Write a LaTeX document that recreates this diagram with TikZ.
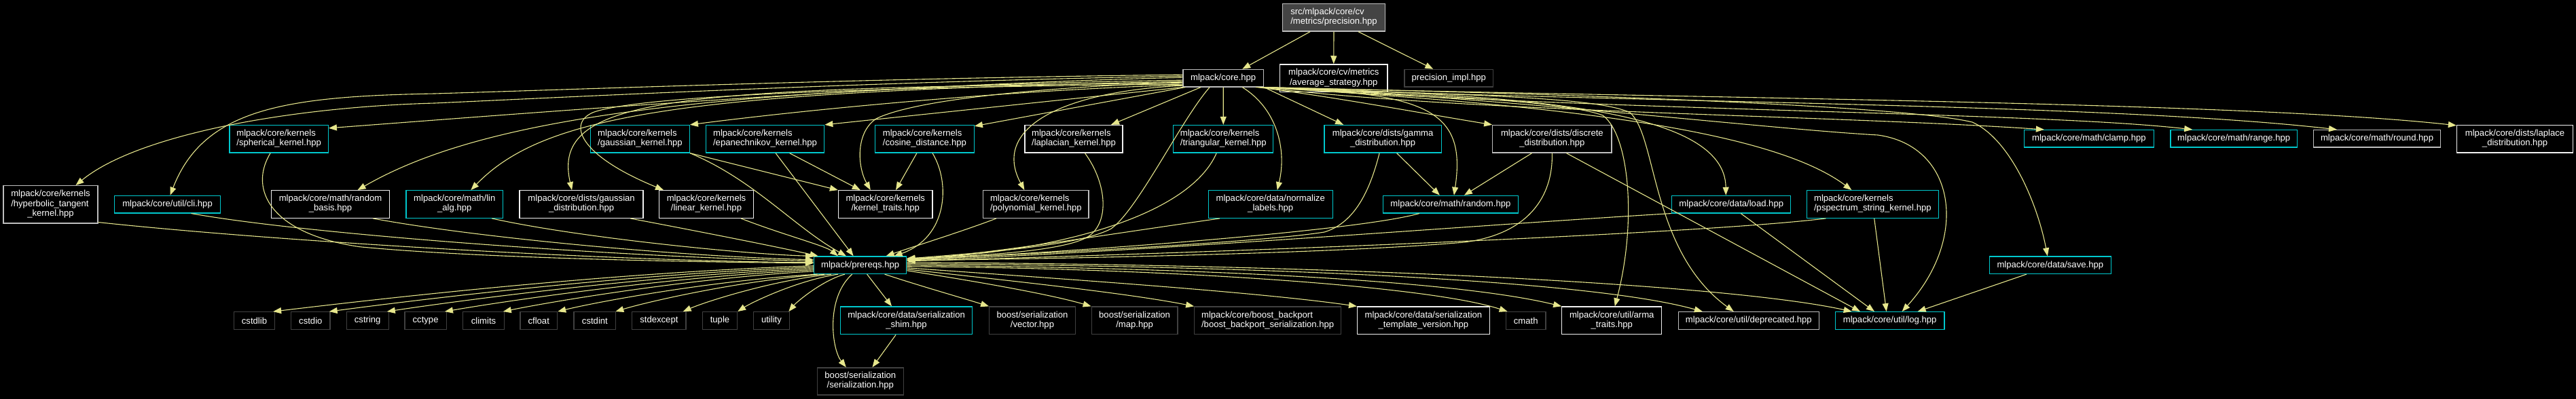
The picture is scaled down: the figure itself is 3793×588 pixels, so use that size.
\documentclass[tikz,border=0pt]{standalone}
\usepackage{fontspec}
\setmainfont{Liberation Sans}
\usetikzlibrary{arrows.meta}
\definecolor{edgec}{RGB}{230,230,140}
\definecolor{cyanb}{RGB}{0,200,205}
\definecolor{whiteb}{RGB}{240,240,240}
\definecolor{grayb}{RGB}{190,190,190}
\definecolor{extb}{RGB}{64,64,64}
\definecolor{rootf}{RGB}{68,68,68}
\newcommand\twol[2]{\begin{tabular}{@{}l@{}}#1\\\multicolumn{1}{@{}c@{}}{#2}\end{tabular}}
\newcommand\threel[3]{\begin{tabular}{@{}l@{}}#1\\#2\\\multicolumn{1}{@{}c@{}}{#3}\end{tabular}}
\tikzset{
  nbase/.style={draw, line width=1.3pt, text=white, inner sep=0pt, font=\fontsize{13.1}{14.25}\selectfont},
  ncy/.style={nbase, draw=cyanb},
  nwh/.style={nbase, draw=whiteb},
  ngr/.style={nbase, draw=grayb},
  nex/.style={nbase, draw=extb},
  nrt/.style={nbase, draw=grayb, fill=rootf},
  bsz/.style 2 args={minimum width=#1pt, minimum height=#2pt},
  edg/.style={draw=edgec, line width=1.1pt, -{Triangle[length=12pt,width=9pt]}},
}
\begin{document}
\begin{tikzpicture}[x=1pt,y=-1pt]
\fill[black] (0,0) rectangle (3793,588);
\useasboundingbox (0,0) rectangle (3793,588);

% nodes
\node[nrt, bsz={150.8}{40.5}] (root) at (1964,25.85) {\twol{src/mlpack/core/cv}{/metrics/precision.hpp}};
\node[ngr, bsz={118.4}{25.5}] (core) at (1801.2,115.15) {mlpack/core.hpp};
\node[nwh, bsz={158.5}{40.5}] (avg) at (1963.75,115.15) {\twol{mlpack/core/cv/metrics}{/average\_strategy.hpp}};
\node[nex, bsz={130.6}{25.5}] (impl) at (2133.3,115.15) {precision\_impl.hpp};

\node[ncy, bsz={145.3}{40.5}] (sph) at (410.65,204.75) {\twol{mlpack/core/kernels}{/spherical\_kernel.hpp}};
\node[ncy, bsz={145.7}{40.5}] (gk) at (942.45,204.75) {\twol{mlpack/core/kernels}{/gaussian\_kernel.hpp}};
\node[ncy, bsz={174.3}{40.5}] (epa) at (1126.55,204.75) {\twol{mlpack/core/kernels}{/epanechnikov\_kernel.hpp}};
\node[ncy, bsz={145.7}{40.5}] (cos) at (1361.45,204.75) {\twol{mlpack/core/kernels}{/cosine\_distance.hpp}};
\node[nwh, bsz={144}{40.5}] (lapk) at (1581,204.75) {\twol{mlpack/core/kernels}{/laplacian\_kernel.hpp}};
\node[ncy, bsz={146.9}{40.5}] (tri) at (1801.25,204.75) {\twol{mlpack/core/kernels}{/triangular\_kernel.hpp}};
\node[ncy, bsz={172.2}{40.5}] (gam) at (2036.1,204.75) {\twol{mlpack/core/dists/gamma}{\_distribution.hpp}};
\node[ngr, bsz={175.1}{40.5}] (dis) at (2285.35,204.75) {\twol{mlpack/core/dists/discrete}{\_distribution.hpp}};
\node[nwh, bsz={171}{40.5}] (lapd) at (3703,204.75) {\twol{mlpack/core/dists/laplace}{\_distribution.hpp}};
\node[ncy, bsz={190.9}{25.5}] (clamp) at (3075.85,204.35) {mlpack/core/math/clamp.hpp};
\node[ncy, bsz={186.6}{25.5}] (range) at (3289.2,204.35) {mlpack/core/math/range.hpp};
\node[ngr, bsz={187.4}{25.5}] (round) at (3500,204.35) {mlpack/core/math/round.hpp};

\node[ngr, bsz={139.2}{55.2}] (hyp) at (74.5,301.3) {\threel{mlpack/core/kernels}{/hyperbolic\_tangent}{\_kernel.hpp}};
\node[ncy, bsz={155.9}{25.5}] (cli) at (246.55,301.15) {mlpack/core/util/cli.hpp};
\node[nwh, bsz={173.9}{40.5}] (rb) at (486.55,301) {\twol{mlpack/core/math/random}{\_basis.hpp}};
\node[ncy, bsz={142.6}{40.5}] (lin) at (669.3,301) {\twol{mlpack/core/math/lin}{\_alg.hpp}};
\node[nwh, bsz={182}{40.5}] (gd) at (856.1,301) {\twol{mlpack/core/dists/gaussian}{\_distribution.hpp}};
\node[nwh, bsz={139.2}{40.5}] (lk) at (1040,301) {\twol{mlpack/core/kernels}{/linear\_kernel.hpp}};
\node[nwh, bsz={138.5}{40.5}] (kt) at (1303.75,301) {\twol{mlpack/core/kernels}{/kernel\_traits.hpp}};
\node[ngr, bsz={155.1}{40.5}] (poly) at (1525.35,301) {\twol{mlpack/core/kernels}{/polynomial\_kernel.hpp}};
\node[ncy, bsz={183}{40.5}] (norm) at (1870.7,301) {\twol{mlpack/core/data/normalize}{\_labels.hpp}};
\node[ncy, bsz={198.8}{25.5}] (rnd) at (2135.9,301.15) {mlpack/core/math/random.hpp};
\node[ncy, bsz={174.9}{25.5}] (load) at (2549.25,301.15) {mlpack/core/data/load.hpp};
\node[ncy, bsz={193.9}{40.5}] (psp) at (2757.35,301) {\twol{mlpack/core/kernels}{/pspectrum\_string\_kernel.hpp}};

\node[ncy, bsz={136.1}{25.5}] (pre) at (1266.65,390.75) {mlpack/prereqs.hpp};
\node[ncy, bsz={178.8}{25.5}] (save) at (3018.8,390.75) {mlpack/core/data/save.hpp};

\node[nex, bsz={60}{25.5}] (cstdlib) at (374.5,472.5) {cstdlib};
\node[nex, bsz={57.5}{25.5}] (cstdio) at (457.35,472.5) {cstdio};
\node[nex, bsz={62}{25.5}] (cstring) at (541.2,472.5) {cstring};
\node[nex, bsz={61.4}{25.5}] (cctype) at (626.6,472.5) {cctype};
\node[nex, bsz={60.4}{25.5}] (climits) at (712,472.5) {climits};
\node[nex, bsz={54.7}{25.5}] (cfloat) at (793.25,472.5) {cfloat};
\node[nex, bsz={61.6}{25.5}] (cstdint) at (875.9,472.5) {cstdint};
\node[nex, bsz={79.2}{25.5}] (stdexcept) at (970.4,472.5) {stdexcept};
\node[nex, bsz={51}{25.5}] (tuple) at (1060,472.5) {tuple};
\node[nex, bsz={53.5}{25.5}] (utility) at (1135.95,472.5) {utility};
\node[ncy, bsz={194.5}{40.75}] (shim) at (1334.55,472.4) {\twol{mlpack/core/data/serialization}{\_shim.hpp}};
\node[nex, bsz={126.6}{40.75}] (vec) at (1520,472.4) {\twol{boost/serialization}{/vector.hpp}};
\node[nex, bsz={126.6}{40.75}] (map) at (1670.6,472.4) {\twol{boost/serialization}{/map.hpp}};
\node[nex, bsz={215.7}{40.75}] (bbp) at (1866.65,472.4) {\twol{mlpack/core/boost\_backport}{/boost\_backport\_serialization.hpp}};
\node[nwh, bsz={194.7}{40.75}] (tv) at (2095.95,472.4) {\twol{mlpack/core/data/serialization}{\_template\_version.hpp}};
\node[nex, bsz={58.8}{25.5}] (cmath) at (2246.7,472.5) {cmath};
\node[nwh, bsz={146.9}{40.75}] (arma) at (2373.25,472.4) {\twol{mlpack/core/util/arma}{\_traits.hpp}};
\node[ngr, bsz={207.2}{25.5}] (dep) at (2574.8,472.5) {mlpack/core/util/deprecated.hpp};
\node[ncy, bsz={160.5}{25.5}] (log) at (2782.65,472.5) {mlpack/core/util/log.hpp};
\node[nex, bsz={126.7}{40.1}] (ser) at (1266.85,561.95) {\twol{boost/serialization}{/serialization.hpp}};

% root edges
\draw[edg] ([xshift=-35pt]root.south) -- ([xshift=28pt]core.north);
\draw[edg] (root.south) -- (avg.north);
\draw[edg] ([xshift=36pt]root.south) -- ([xshift=-23pt]impl.north);

% core -> left
\draw[edg] ([yshift=3pt]core.west) .. controls (1300,120) and (900,140) .. (640,152) .. controls (420,158) and (200,200) .. ([xshift=37pt]hyp.north);
\draw[edg] ([yshift=5pt]core.west) .. controls (1300,115) and (900,130) .. (640,138) .. controls (420,142) and (300,160) .. ([xshift=4pt]cli.north);
\draw[edg] ([yshift=1pt]core.west) .. controls (1300,125) and (800,165) .. ([yshift=-5pt]sph.north east);
\draw[edg] ([yshift=-3pt]core.west) .. controls (1000,130) and (700,180) .. ([xshift=40pt]rb.north);
\draw[edg] ([yshift=-5pt]core.west) .. controls (1000,135) and (800,170) .. ([xshift=24pt]lin.north);
\draw[edg] ([yshift=-7pt]core.west) .. controls (1000,130) and (810,140) .. ([xshift=-14pt]gd.north);
\draw[edg] ([yshift=-9pt]core.west) .. controls (1300,128) and (950,140) .. (875,165) .. controls (835,180) and (850,228) .. ([xshift=-63pt]lk.north);
\draw[edg] ([yshift=-10pt]core.west) .. controls (1500,132) and (1200,160) .. (gk.north east);
\draw[edg] (core.south west) -- (epa.north east);
\draw[edg] ([xshift=4pt]core.south west) -- ([yshift=-2pt]cos.north east);
\draw[edg] ([yshift=-6pt]core.west) .. controls (1500,130) and (1340,150) .. (1290,175) .. controls (1260,195) and (1262,245) .. ([xshift=-22pt]kt.north);
\draw[edg] ([yshift=-11pt]core.west) .. controls (1560,135) and (1460,190) .. ([xshift=-17pt]poly.north);
\draw[edg] ([xshift=-33pt]core.south) -- ([xshift=55pt]lapk.north);
\draw[edg] (core.south) -- (tri.north);
\draw[edg] ([xshift=-20pt]core.south) .. controls (1740,175) and (1675,310) .. (1636,337) .. controls (1590,362) and (1450,372) .. ([yshift=9.5pt]pre.east);
\draw[edg] ([xshift=28pt]core.south) .. controls (1880,160) and (1895,220) .. ([xshift=10pt]norm.north);

% core -> right (leaving from the lower right corner, passing below the top row)
\draw[edg] (core.south east) -- ([xshift=-58pt]gam.north);
\draw[edg] ([xshift=48pt]core.south) .. controls (2100,135) and (2160,160) .. ([xshift=5pt]rnd.north);
\draw[edg] ([xshift=50pt]core.south) .. controls (1960,142) and (2100,168) .. (dis.north west);
\draw[edg] ([xshift=54pt]core.south) .. controls (2250,140) and (2540,160) .. ([xshift=-8pt]load.north);
\draw[edg] ([xshift=55pt]core.south) .. controls (2100,140) and (2300,148) .. (2360,170) .. controls (2400,200) and (2410,330) .. ([xshift=4.5pt]arma.north);
\draw[edg] ([xshift=56pt]core.south) .. controls (2150,140) and (2350,142) .. (2400,166) .. controls (2440,200) and (2430,370) .. ([xshift=-22pt]dep.north);
\draw[edg] ([xshift=52pt]core.south) .. controls (2250,152) and (2600,185) .. ([xshift=-31pt]psp.north);
\draw[edg] ([xshift=57pt]core.south) .. controls (2200,142) and (2600,190) .. (2765,199) .. controls (2880,215) and (2900,350) .. ([xshift=18pt]log.north);
\draw[edg] ([xshift=58pt]core.south) .. controls (2300,138) and (2800,155) .. (2904,180) .. controls (2960,205) and (3000,300) .. ([xshift=-4pt]save.north);
\draw[edg] ([xshift=56pt]core.south) .. controls (2150,165) and (2700,170) .. ([xshift=-66pt]clamp.north);
\draw[edg] ([xshift=58pt]core.south) .. controls (2400,165) and (3000,165) .. ([xshift=-61pt]range.north);
\draw[edg] ([xshift=59pt]core.south) .. controls (2400,152) and (3100,152) .. ([xshift=-59pt]round.north);
\draw[edg] (core.south east) .. controls (2500,145) and (3300,150) .. ([yshift=-1pt]lapd.north west);

% prereqs -> bottom
\draw[edg] ([yshift=-1pt]pre.west) .. controls (880,402) and (521,445) .. ([xshift=-3pt]cstdlib.north east);
\draw[edg] ([yshift=-3pt]pre.west) .. controls (913,404) and (591,445) .. ([xshift=-2pt]cstdio.north east);
\draw[edg] ([yshift=-5pt]pre.west) .. controls (947,406) and (663,445) .. ([xshift=-3pt]cstring.north east);
\draw[edg] ([yshift=-7pt]pre.west) .. controls (981,408) and (736,445) .. ([xshift=-3pt]cctype.north east);
\draw[edg] ([yshift=-9pt]pre.west) .. controls (1015,410) and (809,445) .. ([xshift=-2pt]climits.north east);
\draw[edg] ([xshift=6pt]pre.south west) .. controls (1051,413) and (878,445) .. (cfloat.north east);
\draw[edg] ([xshift=16pt]pre.south west) .. controls (1091,413) and (952,445) .. ([xshift=-1pt]cstdint.north east);
\draw[edg] ([xshift=26pt]pre.south west) .. controls (1137,413) and (1038,445) .. ([xshift=-5pt]stdexcept.north east);
\draw[edg] ([xshift=36pt]pre.south west) .. controls (1175,413) and (1108,445) .. (tuple.north east);
\draw[edg] ([xshift=46pt]pre.south west) .. controls (1211,413) and (1173,445) .. ([xshift=-2pt]utility.north east);
\draw[edg] ([xshift=10pt]pre.south) -- ([xshift=-21.5pt]shim.north);
\draw[edg] ([xshift=-12pt]pre.south) .. controls (1215,440) and (1225,515) .. ([xshift=-21pt]ser.north);
\draw[edg] ([xshift=-15.5pt]shim.south) -- ([xshift=17.6pt]ser.north);
\draw[edg] ([xshift=36pt]pre.south) .. controls (1350,420) and (1420,440) .. (vec.north west);
\draw[edg] ([yshift=-8pt]pre.east) .. controls (1420,412) and (1540,432) .. (map.north west);
\draw[edg] ([yshift=-6pt]pre.east) .. controls (1450,410) and (1650,430) .. (bbp.north west);
\draw[edg] ([yshift=-4pt]pre.east) .. controls (1550,410) and (1850,430) .. (tv.north west);
\draw[edg] ([yshift=-2pt]pre.east) .. controls (1700,395) and (2100,420) .. ([xshift=3pt]cmath.north west);
\draw[edg] (pre.east) .. controls (1800,395) and (2150,415) .. (arma.north west);
\draw[edg] ([yshift=2pt]pre.east) .. controls (1900,392) and (2350,415) .. ([xshift=-68pt]dep.north);
\draw[edg] ([yshift=4pt]pre.east) .. controls (2000,390) and (2550,420) .. ([xshift=-56pt]log.north);

% into prereqs
\draw[edg] ([yshift=2pt]hyp.south east) .. controls (400,355) and (900,385) .. ([yshift=4pt]pre.west);
\draw[edg] ([xshift=35pt]cli.south) .. controls (450,345) and (900,378) .. ([yshift=6pt]pre.west);
\draw[edg] ([xshift=-12.5pt]sph.south) .. controls (365,280) and (400,345) .. (530,363.75) .. controls (700,380) and (1000,386) .. ([yshift=3pt]pre.west);
\draw[edg] ([xshift=62.5pt]rb.south) .. controls (700,350) and (1000,378) .. ([yshift=8pt]pre.west);
\draw[edg] ([xshift=55pt]lin.south) .. controls (850,350) and (1100,375) .. (pre.north west);
\draw[edg] ([xshift=72pt]gd.south) .. controls (1050,345) and (1150,365) .. ([xshift=-62pt]pre.north);
\draw[edg] ([xshift=51pt]lk.south) .. controls (1150,345) and (1215,362) .. ([xshift=-32.65pt]pre.north);
\draw[edg] (gk.south east) .. controls (1110,265) and (1170,335) .. ([xshift=-20.65pt]pre.north);
\draw[edg] ([xshift=15.5pt]epa.south) -- ([xshift=-10pt]pre.north);
\draw[edg] (gk.south east) -- (kt.north west);
\draw[edg] ([xshift=36pt]epa.south) -- ([xshift=-37pt]kt.north);
\draw[edg] ([xshift=-11.5pt]cos.south) -- ([xshift=15.25pt]kt.north);
\draw[edg] ([xshift=11.5pt]cos.south) .. controls (1400,270) and (1395,350) .. ([xshift=50pt]pre.north);
\draw[edg] ([xshift=-58.35pt]poly.south) .. controls (1420,340) and (1340,365) .. ([xshift=38pt]pre.north);
\draw[edg] ([xshift=16.4pt]lapk.south) .. controls (1630,270) and (1635,330) .. (1600,350) .. controls (1560,372) and (1420,378) .. ([yshift=10pt]pre.east);
\draw[edg] ([xshift=-10pt]tri.south) .. controls (1750,320) and (1550,372) .. ([yshift=9pt]pre.east);
\draw[edg] ([xshift=-74.7pt]norm.south) .. controls (1600,350) and (1450,375) .. ([yshift=8.5pt]pre.east);
\draw[edg] ([xshift=-5pt]gam.south) .. controls (2015,290) and (1990,330) .. (1950,342) .. controls (1850,358) and (1500,375) .. ([yshift=8pt]pre.east);
\draw[edg] ([xshift=-46pt]rnd.south) .. controls (2000,340) and (1600,370) .. ([yshift=7.5pt]pre.east);
\draw[edg] (dis.south) .. controls (2287,290) and (2250,345) .. (2156,357) .. controls (1950,375) and (1500,382) .. ([yshift=7pt]pre.east);
\draw[edg] (load.south west) .. controls (2200,330) and (1700,370) .. ([yshift=6.5pt]pre.east);
\draw[edg] ([xshift=-69pt]psp.south) .. controls (2500,345) and (1800,372) .. ([yshift=6pt]pre.east);

% others
\draw[edg] ([xshift=20.5pt]gam.south) -- ([xshift=-16pt]rnd.north);
\draw[edg] ([xshift=-29.75pt]dis.south) -- ([xshift=20pt]rnd.north);
\draw[edg] ([xshift=21pt]dis.south) -- ([xshift=-43.65pt]log.north);
\draw[edg] ([xshift=14pt]load.south) -- ([xshift=-22.65pt]log.north);
\draw[edg] ([xshift=2.35pt]psp.south) -- ([xshift=-5pt]log.north);
\draw[edg] ([xshift=-35pt]save.south) -- ([xshift=41pt]log.north);
\end{tikzpicture}
\end{document}
